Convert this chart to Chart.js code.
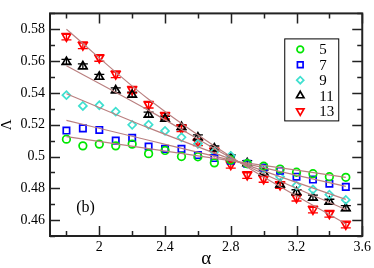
<!DOCTYPE html>
<html>
<head>
<meta charset="utf-8">
<script src="https://cdn.jsdelivr.net/npm/chart.js@4"></script>
<style>
  html, body { margin: 0; padding: 0; background: #fff; }
  #wrap { width: 374px; height: 268px; }
</style>
</head>
<body>
<div id="wrap"><canvas id="chart" width="374" height="268"></canvas></div>
<script>
const alpha = [1.8, 1.9, 2.0, 2.1, 2.2, 2.3, 2.4, 2.5, 2.6, 2.7, 2.8, 2.9, 3.0, 3.1, 3.2, 3.3, 3.4, 3.5];

const lam5  = [0.5109, 0.5067, 0.5078, 0.5067, 0.5078, 0.5018, 0.5038, 0.5000, 0.4998, 0.4960, 0.4978, 0.4955, 0.4939, 0.4921, 0.4901, 0.4892, 0.4873, 0.4869];
const lam7  = [0.5163, 0.5177, 0.5167, 0.5100, 0.5117, 0.5063, 0.5048, 0.5048, 0.5009, 0.4990, 0.4974, 0.4954, 0.4931, 0.4910, 0.4873, 0.4855, 0.4829, 0.4809];
const lam9  = [0.5386, 0.5318, 0.5322, 0.5282, 0.5199, 0.5200, 0.5161, 0.5121, 0.5080, 0.5030, 0.5004, 0.4956, 0.4924, 0.4872, 0.4817, 0.4792, 0.4760, 0.4727];
const lam11 = [0.5595, 0.5567, 0.5501, 0.5416, 0.5388, 0.5263, 0.5237, 0.5185, 0.5120, 0.5050, 0.4994, 0.4958, 0.4899, 0.4824, 0.4775, 0.4741, 0.4715, 0.4675];
const lam13 = [0.5754, 0.5700, 0.5620, 0.5517, 0.5420, 0.5326, 0.5257, 0.5177, 0.5090, 0.5033, 0.4948, 0.4884, 0.4859, 0.4821, 0.4741, 0.4666, 0.4640, 0.4572];

// error bars (only visible for the two largest sizes)
const err11 = [0.0016, 0.0016, 0.0016, 0.0016, 0.0016, 0.0016, 0.0016, 0.0016, 0.0016, 0.0016, 0.0016, 0.0016, 0.0016, 0.0016, 0.0016, 0.0016, 0.0016, 0.0016];
const err13 = [0.0021, 0.0021, 0.0021, 0.0021, 0.0021, 0.0021, 0.0021, 0.0021, 0.0021, 0.0021, 0.0021, 0.0021, 0.0021, 0.0021, 0.0021, 0.0021, 0.0021, 0.0021];

// fitted curves, read at a few alpha values
const fitAlpha = [1.8, 2.3, 2.85, 3.5];
const fit5  = [0.5125, 0.5049, 0.4966, 0.4869];
const fit7  = [0.5227, 0.5102, 0.4965, 0.4812];
const fit9  = [0.5395, 0.5180, 0.4965, 0.4730];
const fit11 = [0.5571, 0.5290, 0.4965, 0.4666];
const fit13 = [0.5800, 0.5360, 0.4965, 0.4576];

const sizes = ['5', '7', '9', '11', '13'];

const xTicks = [2, 2.4, 2.8, 3.2, 3.6];
const xMinor = [1.8, 2.2, 2.6, 3.0, 3.4];
const yTicks = [0.46, 0.48, 0.5, 0.52, 0.54, 0.56, 0.58];
const yMinor = [0.45, 0.47, 0.49, 0.51, 0.53, 0.55, 0.57, 0.59];

const serif = "'Liberation Serif', 'DejaVu Serif', serif";
const fitColor = 'rgb(186, 128, 128)';

const pts = (xs, ys) => xs.map((x, i) => ({ x: x, y: ys[i] }));

const markerSets = [
  { vals: lam5,  color: '#00e600', style: 'circle',   radius: 3.8, rot: 0 },
  { vals: lam7,  color: '#0000ff', style: 'rect',     radius: 4.5, rot: 0 },
  { vals: lam9,  color: '#40e0d0', style: 'rectRot',  radius: 4,   rot: 0 },
  { vals: lam11, color: '#000000', style: 'triangle', radius: 4.8, rot: 0, err: err11 },
  { vals: lam13, color: '#ff0000', style: 'triangle', radius: 4.8, rot: 180, err: err13 }
];
const fits = [fit5, fit7, fit9, fit11, fit13];

const datasets = [];
fits.forEach((f) => {
  datasets.push({
    data: pts(fitAlpha, f),
    showLine: true,
    borderColor: fitColor,
    borderWidth: 1.2,
    pointRadius: 0,
    cubicInterpolationMode: 'monotone'
  });
});
markerSets.forEach((m, i) => {
  datasets.push({
    label: sizes[i],
    data: pts(alpha, m.vals),
    showLine: false,
    pointStyle: m.style,
    pointRadius: m.radius,
    rotation: m.rot,
    borderColor: m.color,
    backgroundColor: 'rgba(255,255,255,0)',
    borderWidth: 1.7,
    err: m.err
  });
});

// error bars under the markers
const errorBars = {
  id: 'errorBars',
  beforeDatasetsDraw(chart) {
    const { ctx, scales: { x, y } } = chart;
    ctx.save();
    chart.data.datasets.forEach((ds) => {
      if (!ds.err) return;
      ctx.strokeStyle = ds.borderColor;
      ctx.lineWidth = 1.3;
      ds.data.forEach((p, i) => {
        const px = x.getPixelForValue(p.x);
        const y1 = y.getPixelForValue(p.y + ds.err[i]);
        const y2 = y.getPixelForValue(p.y - ds.err[i]);
        ctx.beginPath();
        ctx.moveTo(px, y1); ctx.lineTo(px, y2);
        ctx.moveTo(px - 5, y1); ctx.lineTo(px + 5, y1);
        ctx.moveTo(px - 5, y2); ctx.lineTo(px + 5, y2);
        ctx.stroke();
      });
    });
    ctx.restore();
  }
};

// frame, inner ticks, legend and panel label
const frame = {
  id: 'frame',
  afterDraw(chart) {
    const { ctx, chartArea: a, scales: { x, y } } = chart;
    ctx.save();
    ctx.strokeStyle = '#222';
    ctx.lineWidth = 1.5;
    const tick = (vals, len, horiz) => {
      vals.forEach((v) => {
        ctx.beginPath();
        if (horiz) {
          const px = Math.round(x.getPixelForValue(v)) + 0.5;
          ctx.moveTo(px, a.bottom); ctx.lineTo(px, a.bottom - len);
          ctx.moveTo(px, a.top); ctx.lineTo(px, a.top + len);
        } else {
          const py = Math.round(y.getPixelForValue(v)) + 0.5;
          ctx.moveTo(a.left, py); ctx.lineTo(a.left + len, py);
          ctx.moveTo(a.right, py); ctx.lineTo(a.right - len, py);
        }
        ctx.stroke();
      });
    };
    tick(xTicks, 10, true);
    tick(xMinor, 5, true);
    tick(yTicks, 10, false);
    tick(yMinor, 5, false);
    ctx.lineWidth = 2;
    ctx.strokeRect(a.left, a.top, a.right - a.left, a.bottom - a.top);

    // legend box
    const bx = a.right - 78, by = a.top + 25, bw = 54, bh = 82;
    ctx.lineWidth = 1;
    ctx.strokeStyle = '#000';
    ctx.fillStyle = '#fff';
    ctx.fillRect(bx, by, bw, bh);
    ctx.strokeRect(bx + 0.5, by + 0.5, bw, bh);
    ctx.font = '15px ' + serif;
    ctx.textBaseline = 'middle';
    ctx.textAlign = 'left';
    markerSets.forEach((m, i) => {
      const cy = by + 11 + i * 15.4;
      ctx.lineWidth = 1.7;
      ctx.strokeStyle = m.color;
      ctx.fillStyle = '#fff';
      Chart.helpers.drawPoint(ctx, {
        pointStyle: m.style, radius: m.radius - 0.5, rotation: m.rot, borderWidth: 1.7
      }, bx + 16, cy);
      ctx.fillStyle = '#000';
      ctx.fillText(sizes[i], bx + 35, cy + 1);
    });

    ctx.font = '16px ' + serif;
    ctx.fillStyle = '#000';
    ctx.textAlign = 'left';
    ctx.fillText('(b)', x.getPixelForValue(1.86), y.getPixelForValue(0.468));
    ctx.restore();
  }
};

new Chart(document.getElementById('chart'), {
  type: 'scatter',
  data: { datasets: datasets },
  options: {
    responsive: false,
    animation: false,
    layout: { padding: { top: 2, right: 11, left: 0, bottom: 0 } },
    plugins: { legend: { display: false }, tooltip: { enabled: false } },
    scales: {
      x: {
        type: 'linear',
        min: 1.7,
        max: 3.6,
        afterBuildTicks: (s) => { s.ticks = xTicks.map((v) => ({ value: v })); },
        afterFit: (s) => { s.height = 32; },
        grid: { display: false, drawTicks: false },
        border: { display: false },
        ticks: {
          color: '#000',
          padding: 3,
          maxRotation: 0,
          font: { family: serif, size: 14 },
          callback: (v) => String(v)
        },
        title: {
          display: true,
          text: 'α',
          color: '#000',
          padding: 0,
          font: { family: serif, size: 19, lineHeight: 0.9 }
        }
      },
      y: {
        type: 'linear',
        min: 0.45,
        max: 0.59,
        afterBuildTicks: (s) => { s.ticks = yTicks.map((v) => ({ value: v })); },
        afterFit: (s) => { s.width = 50; },
        grid: { display: false, drawTicks: false },
        border: { display: false },
        ticks: {
          color: '#000',
          padding: 5,
          font: { family: serif, size: 14 },
          callback: (v) => String(v)
        },
        title: {
          display: true,
          text: 'Λ',
          color: '#000',
          padding: 0,
          font: { family: serif, size: 15, lineHeight: 1.0 }
        }
      }
    }
  },
  plugins: [errorBars, frame]
});
</script>
</body>
</html>
